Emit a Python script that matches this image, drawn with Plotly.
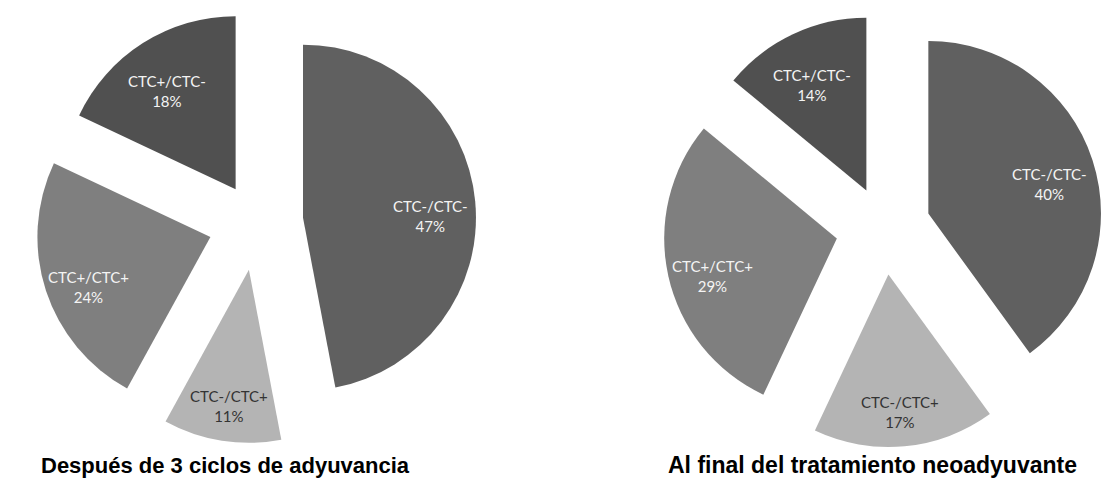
import math
import plotly.graph_objects as go

labels = ["CTC-/CTC-", "CTC-/CTC+", "CTC+/CTC+", "CTC+/CTC-"]
values_left = [47, 11, 24, 18]
values_right = [40, 17, 29, 14]
pull_left = [0.27, 0.28, 0.28, 0.225]
pull_right = [0.27, 0.27, 0.28, 0.24]
titles = ["Después de 3 ciclos de adyuvancia", "Al final del tratamiento neoadyuvante"]

colors = ["#606060", "#b4b4b4", "#7f7f7f", "#505050"]
text_colors = ["#f4f4f4", "#333333", "#f4f4f4", "#f4f4f4"]

W, H = 1120, 482
LABEL_FRAC = 0.74

fig = go.Figure()


def add_pie(values, pulls, dx, dy, title, title_x, title_size):
    fig.add_trace(go.Pie(
        labels=labels,
        values=values,
        pull=pulls,
        sort=False,
        direction="clockwise",
        rotation=0,
        marker=dict(colors=colors, line=dict(width=0)),
        textinfo="none",
        hoverinfo="label+percent",
        showlegend=False,
        domain=dict(x=dx, y=dy),
    ))
    # geometry of the pie as plotly lays it out (for label placement)
    cx = W * (dx[0] + dx[1]) / 2
    cy = H * (1 - (dy[0] + dy[1]) / 2)
    r = min(W * (dx[1] - dx[0]), H * (dy[1] - dy[0])) / 2 / (1 + max(pulls))
    total = sum(values)
    cum = 0
    for lab, v, p, tc in zip(labels, values, pulls, text_colors):
        mid = math.radians(360 * (cum + v / 2) / total)
        cum += v
        dist = (p + LABEL_FRAC) * r
        px = cx + dist * math.sin(mid)
        py = cy - dist * math.cos(mid)
        fig.add_annotation(
            text=f"{lab}<br>{round(100 * v / total)}%",
            x=px / W, y=1 - py / H, xref="paper", yref="paper",
            showarrow=False, xanchor="center", yanchor="middle", yshift=-10,
            font=dict(family="Lato, Open Sans, sans-serif", size=15, color=tc),
        )
    fig.add_annotation(
        text=f"<b>{title}</b>", x=title_x, y=1 - 465 / H, xref="paper", yref="paper",
        showarrow=False, xanchor="center", yanchor="middle",
        font=dict(family="Liberation Sans, Arial, sans-serif", size=title_size, color="#000000"),
    )


add_pie(values_left, pull_left, [0.0313, 0.4267], [0.080, 0.9988], titles[0], 225 / W, 22)
add_pie(values_right, pull_right, [0.592, 0.9866], [0.0685, 0.9855], titles[1], 872 / W, 23)

fig.update_layout(
    width=W, height=H,
    margin=dict(l=0, r=0, t=0, b=0),
    paper_bgcolor="#ffffff",
    plot_bgcolor="#ffffff",
)

fig.write_html("out.html")
